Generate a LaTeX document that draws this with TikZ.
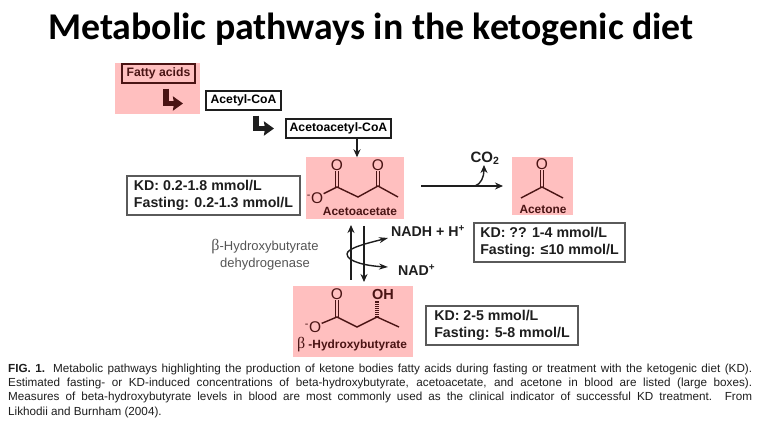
\documentclass[tikz,border=0pt]{standalone}
\usepackage{fontspec}
\setmainfont{Liberation Sans}
\newfontfamily\titlefont{Carlito}
\newfontfamily\betafont{Liberation Serif}
\usepackage{xcolor}
\usetikzlibrary{arrows.meta,positioning,calc}
\definecolor{paper}   {HTML}{FFFFFF}
\definecolor{ink}     {HTML}{1E1E1E}
\definecolor{inkgray} {HTML}{555555}
\definecolor{rosebg}  {HTML}{FFBFBF}
\definecolor{roseink} {HTML}{4A1414}
\definecolor{boxline} {HTML}{5A5A5A}
\newcommand{\fs}[1]{\fontsize{#1}{#1}\selectfont}
\tikzset{
  rosepatch/.style ={fill=rosebg, draw=none},
  namebox/.style   ={draw=ink, fill=paper, line width=1.1pt, inner sep=0pt,
                     align=center, font=\fs{12.2}\bfseries},
  rangebox/.style  ={draw=boxline, fill=paper, line width=1.1pt, inner sep=0pt,
                     align=left, text=ink, font=\fontsize{14.2}{16.6}\selectfont\bfseries},
  bentarr/.style   ={-{Stealth[length=10pt,width=14pt,inset=1pt]}, line width=5.5pt, color=ink},
  flowarr/.style   ={-{Stealth[length=8pt,width=7pt]}, line width=1.4pt, color=ink},
  bond/.style      ={line width=1.4pt, color=roseink},
  dbond/.style     ={line width=1.1pt, color=roseink, double=rosebg, double distance=1.1pt},
  atom/.style      ={inner sep=0.4pt, text=roseink, font=\fs{15.5}},
  molname/.style   ={inner sep=0pt, text=roseink, font=\fs{11.9}\bfseries},
  sidelabel/.style ={inner sep=0pt, text=ink, font=\fs{14.2}\bfseries},
  enzyme/.style    ={inner sep=0pt, text=inkgray, font=\fontsize{13}{16.8}\selectfont, align=center},
}
\begin{document}
\begin{tikzpicture}[x=1pt,y=-1pt]
    \useasboundingbox[fill=paper] (0,0) rectangle (758,422);

    \node[inner sep=0pt,font=\titlefont\fs{37.8}\bfseries,text=black] (title) at (371,29) {Metabolic pathways in the ketogenic diet};

    % pink patches
    \node[rosepatch,minimum width=85pt,minimum height=51pt,inner sep=0pt] (fattybg)  at (157.5,88.5) {};
    \node[rosepatch,minimum width=98pt,minimum height=62pt,inner sep=0pt] (acetobg)  at (355,188.5) {};
    \node[rosepatch,minimum width=61pt,minimum height=58pt,inner sep=0pt] (acetonebg) at (542.5,186) {};
    \node[rosepatch,minimum width=120pt,minimum height=71pt,inner sep=0pt] (hydroxybg) at (353,321.5) {};

    % top chain
    \node[namebox,draw=roseink,text=roseink,fill=rosebg,minimum width=73pt,minimum height=19pt] (fatty) at (158.5,73.5) {Fatty acids};
    \node[namebox,minimum width=75pt,minimum height=19pt] (acetyl) at (243.5,100.5) {Acetyl-CoA};
    \node[namebox,minimum width=105pt,minimum height=19pt] (acetoacetyl) at (338.5,128.5) {Acetoacetyl-CoA};

    \coordinate (bendA) at (166,103.5);
    \coordinate (endA)  at (183,103.5);
    \coordinate (bendB) at (256,128.5);
    \coordinate (endB)  at (274,128.5);
    \draw[bentarr,color=roseink] ([yshift=-5pt]fatty.south -| bendA) -- (bendA) -- (endA);
    \draw[bentarr] ([yshift=-5pt]acetyl.south -| bendB) -- (bendB) -- (endB);

    % range boxes
    \node[rangebox,minimum width=173pt,minimum height=39pt] (kdaceto) at (213.5,195.5) {KD: 0.2-1.8 mmol/L\\Fasting: 0.2-1.3 mmol/L};
    \node[rangebox,minimum width=151pt,minimum height=39pt] (kdacetone) at (549.5,242.5) {KD: ?? 1-4 mmol/L\\Fasting: ≤10 mmol/L};
    \node[rangebox,minimum width=152pt,minimum height=39pt] (kdhydroxy) at (502,325.5) {KD: 2-5 mmol/L\\Fasting: 5-8 mmol/L};

    % acetoacetate
    \node[atom] (aO1) at (337,165) {O};
    \node[atom] (aO2) at (378,165) {O};
    \node[atom] (aOm) at (315,198) {\textsuperscript{-}O};
    \coordinate (aC1) at (337,187);
    \coordinate (aC2) at (358,197);
    \coordinate (aC3) at (378,186);
    \coordinate (aC4) at (398,197);
    \draw[dbond] (aO1) -- (aC1);
    \draw[dbond] (aO2) -- (aC3);
    \draw[bond] (aOm) -- (aC1) -- (aC2) -- (aC3) -- (aC4);
    \node[molname] (acetoname) at (360,211) {Acetoacetate};

    % acetone
    \node[atom] (kO) at (542,164) {O};
    \coordinate (kC) at (542,187);
    \coordinate (kL) at (521,198);
    \coordinate (kR) at (563,198);
    \draw[dbond] (kO) -- (kC);
    \draw[bond] (kL) -- (kC) -- (kR);
    \node[molname] (acetonename) at (543,209) {Acetone};

    % hydroxybutyrate
    \node[atom] (hO1) at (337,294) {O};
    \node[atom] (hOm) at (313,327) {\textsuperscript{-}O};
    \node[atom,font=\fs{14.5}\bfseries] (hOH) at (383,295) {OH};
    \coordinate (hC1) at (337,317);
    \coordinate (hC2) at (357,327);
    \coordinate (hC3) at (377,317);
    \coordinate (hC4) at (399,327);
    \draw[dbond] (hO1) -- (hC1);
    \draw[bond] (hOm) -- (hC1) -- (hC2) -- (hC3) -- (hC4);
    \draw[roseink,line width=4pt,dash pattern=on 1pt off 1pt] (hC3) -- (hC3 |- hOH.south);
    \node[molname] (hydroxyname) at (352,345) {{\betafont\mdseries\fs{16}β} -Hydroxybutyrate};

    % arrows
    \coordinate (dropA) at (357,138);
    \draw[flowarr] (dropA) -- (dropA |- acetobg.north);
    \coordinate (forkC) at (475,186);
    \coordinate (startC) at (421,186);
    \coordinate (endC) at (503,186);
    \node[inner sep=0pt,text=ink,font=\fs{15}\bfseries] (co2) at (485,158) {CO\textsubscript{2}};
    \draw[flowarr] (startC) -- (endC);
    \draw[flowarr] (forkC) .. controls (481,184) and (484,177) .. (484,165);

    \coordinate (upS) at (351,280);
    \coordinate (upE) at (351,225);
    \coordinate (dnS) at (364,226);
    \coordinate (dnE) at (364,282);
    \draw[flowarr] (upS) -- (upE);
    \draw[flowarr] (dnS) -- (dnE);

    \node[sidelabel,anchor=west] (nadh) at (391,231) {NADH + H\textsuperscript{+}};
    \node[sidelabel,anchor=west] (nad)  at (398,270) {NAD\textsuperscript{+}};
    \coordinate (turn) at (347,254);
    \draw[flowarr,-{Stealth[length=9pt,width=6pt]}] (turn) .. controls (347,248) and (368,243) .. (388,238);
    \draw[flowarr,-{Stealth[length=9pt,width=6pt]}] (turn) .. controls (347,262) and (368,266) .. (388,267);

    \node[enzyme] (enzyme) at (265,254.5) {{\betafont\fs{16}β}-Hydroxybutyrate\\dehydrogenase};

    % caption
    \node[anchor=north west,inner sep=0pt,text width=744pt,align=justify,text=ink,font=\fontsize{11.7}{14.35}\selectfont] (caption) at (8,363.5) {
      \textbf{FIG. 1.} Metabolic pathways highlighting the production of ketone bodies fatty acids during fasting or treatment with the ketogenic diet (KD).\linebreak
      Estimated fasting- or KD-induced concentrations of beta-hydroxybutyrate, acetoacetate, and acetone in blood are listed (large boxes).\linebreak
      Measures of beta-hydroxybutyrate levels in blood are most commonly used as the clinical indicator of successful KD treatment. From\linebreak
      Likhodii and Burnham (2004).};
\end{tikzpicture}
\end{document}
